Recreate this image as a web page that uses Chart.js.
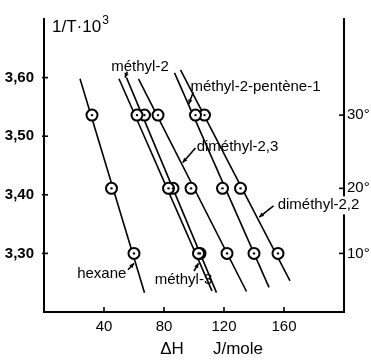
<!DOCTYPE html>
<html>
<head>
<meta charset="utf-8">
<script src="https://cdn.jsdelivr.net/npm/chart.js@4.4.1/dist/chart.umd.min.js"></script>
<style>
    body { margin: 0; background: #fff; }
</style>
</head>
<body>
<canvas id="myChart" width="371" height="360"></canvas>
<script>
// axis ticks
const xTicks = [40, 80, 120, 160];
const yTicks = [3.30, 3.40, 3.50, 3.60];
const tempTicks = [3.536, 3.411, 3.300];
const tempLabels = ["30°", "20°", "10°"];

// measured points (1/T * 1000 for the three rows)
const rowY = [3.536, 3.411, 3.300];
const hexane = [32, 45, 60];
const methyl2 = [62, 83, 103];
const methyl3 = [67, 86, 104];
const dimethyl23 = [76, 98, 122];
const methylPentene = [101, 119, 140];
const dimethyl22 = [107, 131, 156];

// drawn straight lines: [x start, x end] and [y start, y end]
const hexaneLineX = [24, 67];
const hexaneLineY = [3.598, 3.233];
const methyl2LineX = [50, 112];
const methyl2LineY = [3.598, 3.236];
const methyl3LineX = [55, 115];
const methyl3LineY = [3.600, 3.233];
const dimethyl23LineX = [63, 135];
const dimethyl23LineY = [3.598, 3.235];
const methylPenteneLineX = [87, 150];
const methylPenteneLineY = [3.608, 3.242];
const dimethyl22LineX = [91, 164];
const dimethyl22LineY = [3.613, 3.253];

const FONT = '"Liberation Sans", Arial, sans-serif';

function toPoints(xs, ys) {
    var pts = [];
    for (var i = 0; i < xs.length; i++) {
        pts.push({ x: xs[i], y: ys[i] });
    }
    return pts;
}

var series = [
    { pts: hexane, lx: hexaneLineX, ly: hexaneLineY },
    { pts: methyl2, lx: methyl2LineX, ly: methyl2LineY },
    { pts: methyl3, lx: methyl3LineX, ly: methyl3LineY },
    { pts: dimethyl23, lx: dimethyl23LineX, ly: dimethyl23LineY },
    { pts: methylPentene, lx: methylPenteneLineX, ly: methylPenteneLineY },
    { pts: dimethyl22, lx: dimethyl22LineX, ly: dimethyl22LineY },
];

var datasets = [];
series.forEach(function (s) {
    // the fitted line
    datasets.push({
        type: "line",
        data: toPoints(s.lx, s.ly),
        borderColor: "#000",
        borderWidth: 1.6,
        pointRadius: 0,
        order: 3,
    });
    // open circle
    datasets.push({
        type: "scatter",
        data: toPoints(s.pts, rowY),
        pointRadius: 5.5,
        pointBorderWidth: 2,
        pointBackgroundColor: "#fff",
        pointBorderColor: "#000",
        order: 2,
    });
    // dot in the middle
    datasets.push({
        type: "scatter",
        data: toPoints(s.pts, rowY),
        pointRadius: 1.2,
        pointBorderWidth: 0,
        pointBackgroundColor: "#000",
        order: 1,
    });
});

// labels and little arrows, placed in data units
var notes = [
    { text: "méthyl-2", x: 64, y: 3.618 },
    { text: "méthyl-2-pentène-1", x: 141, y: 3.585 },
    { text: "diméthyl-2,3", x: 129, y: 3.481 },
    { text: "diméthyl-2,2", x: 183, y: 3.382, erase: true },
    { text: "hexane", x: 38.5, y: 3.265 },
    { text: "méthyl-3", x: 93, y: 3.255 },
];
var arrows = [
    { from: [56, 3.272], to: [60, 3.283] },
    { from: [100, 3.270], to: [103, 3.283] },
    { from: [99.5, 3.575], to: [96.5, 3.555] },
    { from: [101, 3.480], to: [92.5, 3.455] },
    { from: [153, 3.381], to: [143.5, 3.362] },
    { from: [55.5, 3.610], to: [54, 3.600] },
];

const extras = {
    id: "extras",
    afterDraw: function (chart) {
        var ctx = chart.ctx;
        var xs = chart.scales.x;
        var ys = chart.scales.y;
        var area = chart.chartArea;
        ctx.save();
        ctx.strokeStyle = "#000";
        ctx.fillStyle = "#000";
        ctx.lineWidth = 1.6;

        // inward tick marks
        xTicks.forEach(function (v) {
            var px = xs.getPixelForValue(v);
            ctx.beginPath();
            ctx.moveTo(px, area.bottom);
            ctx.lineTo(px, area.bottom - 5);
            ctx.stroke();
        });
        yTicks.forEach(function (v) {
            var py = ys.getPixelForValue(v);
            ctx.beginPath();
            ctx.moveTo(area.left - 2, py);
            ctx.lineTo(area.left + 4, py);
            ctx.stroke();
        });
        tempTicks.forEach(function (v) {
            var py = ys.getPixelForValue(v);
            ctx.beginPath();
            ctx.moveTo(area.right - 5, py);
            ctx.lineTo(area.right + 1, py);
            ctx.stroke();
        });

        // arrows
        arrows.forEach(function (a) {
            var x1 = xs.getPixelForValue(a.from[0]), y1 = ys.getPixelForValue(a.from[1]);
            var x2 = xs.getPixelForValue(a.to[0]), y2 = ys.getPixelForValue(a.to[1]);
            ctx.beginPath();
            ctx.moveTo(x1, y1);
            ctx.lineTo(x2, y2);
            ctx.stroke();
            var ang = Math.atan2(y2 - y1, x2 - x1);
            ctx.beginPath();
            ctx.moveTo(x2, y2);
            ctx.lineTo(x2 - 5 * Math.cos(ang - 0.45), y2 - 5 * Math.sin(ang - 0.45));
            ctx.lineTo(x2 - 5 * Math.cos(ang + 0.45), y2 - 5 * Math.sin(ang + 0.45));
            ctx.closePath();
            ctx.fill();
        });

        // line labels
        ctx.font = "15px " + FONT;
        ctx.textAlign = "center";
        ctx.textBaseline = "middle";
        notes.forEach(function (n) {
            var px = xs.getPixelForValue(n.x);
            var py = ys.getPixelForValue(n.y);
            if (n.erase) {
                var w = ctx.measureText(n.text).width;
                ctx.fillStyle = "#fff";
                ctx.fillRect(px - w / 2 - 1, py - 9, w + 2, 18);
                ctx.fillStyle = "#000";
            }
            ctx.fillText(n.text, px, py);
        });

        // y axis title
        ctx.textAlign = "left";
        ctx.textBaseline = "alphabetic";
        ctx.font = "17px " + FONT;
        var t = "1/T·10";
        ctx.fillText(t, area.left + 8, area.top + 13);
        var tw = ctx.measureText(t).width;
        ctx.font = "12px " + FONT;
        ctx.fillText("3", area.left + 8 + tw + 1, area.top + 5);

        // x axis title
        ctx.font = "17px " + FONT;
        ctx.textAlign = "center";
        ctx.fillText("ΔH", 172, 354);
        ctx.fillText("J/mole", 238, 354);
        ctx.restore();
    },
};

const config = {
    type: "scatter",
    data: { datasets: datasets },
    options: {
        responsive: false,
        animation: false,
        layout: { padding: { top: 12, left: 0, right: 0, bottom: 0 } },
        plugins: {
            legend: { display: false },
            tooltip: { enabled: false },
        },
        scales: {
            x: {
                type: "linear",
                min: 0,
                max: 200,
                afterBuildTicks: function (scale) {
                    scale.ticks = xTicks.map(function (v) { return { value: v }; });
                },
                afterFit: function (scale) { scale.height = 48; },
                grid: { display: false, drawTicks: false },
                border: { display: true, color: "#000", width: 2 },
                ticks: {
                    padding: 6,
                    color: "#000",
                    font: { family: FONT, size: 15 },
                    callback: function (v) { return v; },
                },
            },
            y: {
                type: "linear",
                position: "left",
                min: 3.2,
                max: 3.7,
                afterBuildTicks: function (scale) {
                    scale.ticks = yTicks.map(function (v) { return { value: v }; });
                },
                afterFit: function (scale) { scale.width = 44; },
                grid: { display: false, drawTicks: false },
                border: { display: true, color: "#000", width: 2 },
                ticks: {
                    padding: 10,
                    color: "#000",
                    font: { family: FONT, size: 15, weight: "bold" },
                    callback: function (v) { return v.toFixed(2).replace(".", ","); },
                },
            },
            y2: {
                type: "linear",
                position: "right",
                min: 3.2,
                max: 3.7,
                afterBuildTicks: function (scale) {
                    scale.ticks = tempTicks.map(function (v) { return { value: v }; });
                },
                afterFit: function (scale) { scale.width = 27; },
                grid: { display: false, drawTicks: false },
                border: { display: true, color: "#000", width: 2 },
                ticks: {
                    padding: 3,
                    color: "#000",
                    font: { family: FONT, size: 15 },
                    callback: function (v) {
                        return tempLabels[tempTicks.indexOf(v)];
                    },
                },
            },
        },
    },
    plugins: [extras],
};

var myChart = new Chart(document.getElementById("myChart"), config);
</script>
</body>
</html>
